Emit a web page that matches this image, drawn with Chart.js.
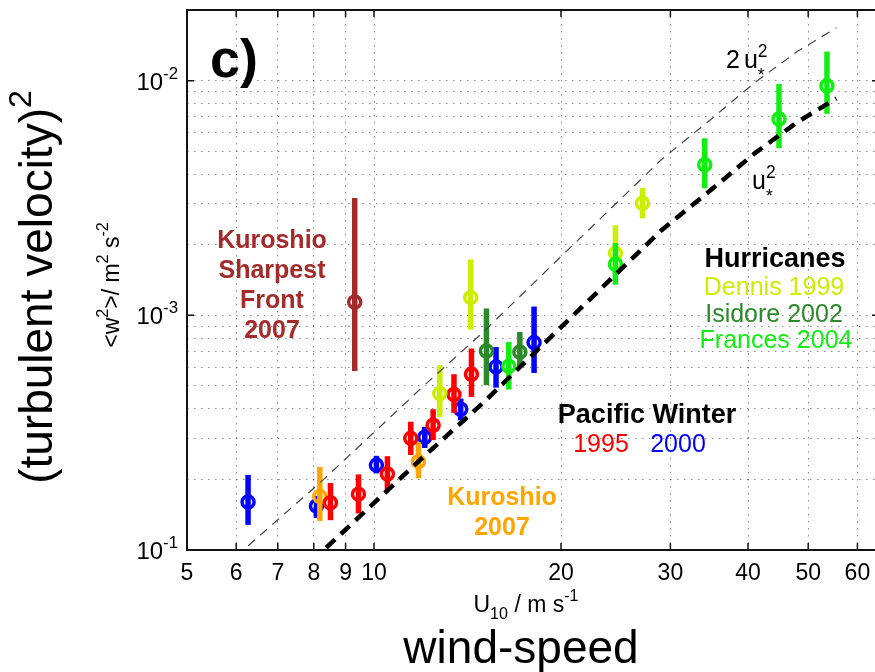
<!DOCTYPE html>
<html>
<head>
<meta charset="utf-8">
<title>Vertical velocity variance vs wind speed</title>
<script src="https://cdn.jsdelivr.net/npm/chart.js@4.4.1/dist/chart.umd.min.js"></script>
<style>
  html, body { margin: 0; padding: 0; background: #fff; overflow: hidden; }
  #wrap { width: 890px; height: 672px; }
</style>
</head>
<body>
<div id="wrap"><canvas id="chart" width="890" height="672"></canvas></div>
<script>
// axis ticks
const X_TICKS = [5, 6, 7, 8, 9, 10, 20, 30, 40, 50, 60];
const Y_GRID = [1e-4, 2e-4, 3e-4, 4e-4, 5e-4, 6e-4, 7e-4, 8e-4, 9e-4,
                1e-3, 2e-3, 3e-3, 4e-3, 5e-3, 6e-3, 7e-3, 8e-3, 9e-3,
                1e-2, 2e-2];
const Y_DECADES = [1e-4, 1e-3, 1e-2];
const Y_DECADE_EXP = ['-1', '-3', '-2'];

// u*^2 and 2u*^2 reference curves
const REF_U = [6, 8.3, 12, 15, 20, 29, 35, 41, 48, 55.5];
const USTAR2 = [4.7e-5, 1.0e-4, 2.49e-4, 4.25e-4, 8.9e-4, 2.3e-3, 3.45e-3, 4.9e-3, 6.65e-3, 8.4e-3];
const USTAR2_X2 = [9.4e-5, 2.0e-4, 4.98e-4, 8.5e-4, 1.78e-3, 4.6e-3, 6.9e-3, 9.8e-3, 1.33e-2, 1.68e-2];

// Pacific winter 2000
const pw2000U  = [6.27, 8.08, 10.09, 12.07, 13.79, 15.72, 18.1];
const pw2000W  = [1.60e-4, 1.54e-4, 2.30e-4, 3.02e-4, 3.98e-4, 6.03e-4, 7.65e-4];
const pw2000Lo = [1.28e-4, 1.37e-4, 2.12e-4, 2.72e-4, 3.57e-4, 4.92e-4, 5.68e-4];
const pw2000Hi = [2.09e-4, 1.70e-4, 2.52e-4, 3.35e-4, 4.42e-4, 7.33e-4, 1.09e-3];

// Pacific winter 1995
const pw1995U  = [8.51, 9.44, 10.51, 11.46, 12.45, 13.45, 14.35];
const pw1995W  = [1.59e-4, 1.73e-4, 2.11e-4, 2.99e-4, 3.40e-4, 4.60e-4, 5.61e-4];
const pw1995Lo = [1.34e-4, 1.43e-4, 1.80e-4, 2.54e-4, 2.94e-4, 3.84e-4, 4.49e-4];
const pw1995Hi = [1.93e-4, 2.10e-4, 2.51e-4, 3.52e-4, 3.98e-4, 5.61e-4, 7.22e-4];

// Kuroshio 2007
const kuroU  = [8.18, 11.79];
const kuroW  = [1.69e-4, 2.38e-4];
const kuroLo = [1.33e-4, 2.02e-4];
const kuroHi = [2.26e-4, 2.88e-4];

// Kuroshio sharpest front 2007
const frontU  = [9.31];
const frontW  = [1.14e-3];
const frontLo = [5.79e-4];
const frontHi = [3.16e-3];

// Hurricanes
const dennisU  = [12.76, 14.31, 24.47, 27.05];
const dennisW  = [4.64e-4, 1.19e-3, 1.84e-3, 3.0e-3];
const dennisLo = [3.69e-4, 8.69e-4, 1.5e-3, 2.59e-3];
const dennisHi = [6.13e-4, 1.73e-3, 2.42e-3, 3.49e-3];

const isidoreU  = [15.17, 17.17];
const isidoreW  = [7.05e-4, 6.98e-4];
const isidoreLo = [5.04e-4, 6.03e-4];
const isidoreHi = [1.07e-3, 8.49e-4];

const francesU  = [16.48, 24.47, 34.07, 44.87, 53.6];
const francesW  = [6.07e-4, 1.65e-3, 4.38e-3, 6.87e-3, 9.52e-3];
const francesLo = [4.83e-4, 1.35e-3, 3.48e-3, 5.15e-3, 7.22e-3];
const francesHi = [7.70e-4, 2.03e-3, 5.68e-3, 9.68e-3, 1.33e-2];

const C = {
    blue: '#0000ff', red: '#ff0000', orange: '#ffa500', front: '#a52a2a',
    dennis: '#ccee00', isidore: '#2a8a2a', frances: '#11ee11'
};
const FONT = '"Liberation Sans", Arial, Helvetica, sans-serif';

function pts(us, ws) { return us.map((u, i) => ({ x: u, y: ws[i] })); }

function group(us, ws, lo, hi, color) {
    return {
        type: 'scatter', data: pts(us, ws), lo: lo, hi: hi,
        borderColor: color, backgroundColor: 'rgba(0,0,0,0)',
        pointRadius: 6, pointBorderWidth: 3.5, pointHoverRadius: 6
    };
}

function refLine(ys, width, color, dash) {
    return {
        type: 'line', data: pts(REF_U, ys), borderColor: color, borderWidth: width,
        borderDash: dash, pointRadius: 0, fill: false, tension: 0
    };
}

// --- rich text (sub/superscripts) ---
function fontOf(size, bold) { return (bold ? 'bold ' : '') + size + 'px ' + FONT; }

function layoutRich(ctx, parts, size, bold) {
    let w = 0;
    const items = parts.map(p => {
        let pw;
        if (p.gap) pw = p.gap;
        else if (p.sub !== undefined) {
            ctx.font = fontOf(size * 0.7, bold);
            pw = Math.max(ctx.measureText(p.sub).width, ctx.measureText(p.sup).width);
        } else {
            ctx.font = fontOf(p.k ? size * 0.7 : size, bold);
            pw = ctx.measureText(p.t).width;
        }
        const it = { p: p, x: w };
        w += pw;
        return it;
    });
    return { items: items, width: w };
}

function drawRich(ctx, parts, x, y, size, color, align, bold) {
    const lay = layoutRich(ctx, parts, size, bold);
    const x0 = align === 'center' ? x - lay.width / 2 : align === 'right' ? x - lay.width : x;
    ctx.fillStyle = color;
    ctx.textAlign = 'left';
    ctx.textBaseline = 'alphabetic';
    lay.items.forEach(({ p, x: dx }) => {
        if (p.gap) return;
        if (p.sub !== undefined) {
            ctx.font = fontOf(size * 0.7, bold);
            ctx.fillText(p.sub, x0 + dx, y + size * 0.5);
            ctx.fillText(p.sup, x0 + dx, y - size * 0.46);
        } else if (p.k === 'sup') {
            ctx.font = fontOf(size * 0.7, bold);
            ctx.fillText(p.t, x0 + dx, y - size * 0.46);
        } else if (p.k === 'sub') {
            ctx.font = fontOf(size * 0.7, bold);
            ctx.fillText(p.t, x0 + dx, y + size * 0.3);
        } else {
            ctx.font = fontOf(size, bold);
            ctx.fillText(p.t, x0 + dx, y);
        }
    });
}

function text(ctx, s, x, y, size, color, bold) {
    ctx.font = fontOf(size, bold);
    ctx.fillStyle = color;
    ctx.textAlign = 'center';
    ctx.textBaseline = 'alphabetic';
    ctx.fillText(s, x, y);
}

// vertical error bars, drawn just before each group's markers
const errorBars = {
    id: 'errorBars',
    beforeDatasetDraw(chart, args) {
        const ds = chart.data.datasets[args.index];
        if (!ds.lo) return;
        const ctx = chart.ctx, ys = chart.scales.y, a = chart.chartArea;
        ctx.save();
        ctx.beginPath();
        ctx.rect(a.left, a.top, a.right - a.left, a.bottom - a.top);
        ctx.clip();
        ctx.strokeStyle = ds.borderColor;
        ctx.lineWidth = 5.5;
        args.meta.data.forEach((pt, i) => {
            ctx.beginPath();
            ctx.moveTo(pt.x, ys.getPixelForValue(ds.lo[i]));
            ctx.lineTo(pt.x, ys.getPixelForValue(ds.hi[i]));
            ctx.stroke();
        });
        ctx.restore();
    }
};

// box with inward ticks, tick labels and annotations
const decorations = {
    id: 'decorations',
    afterDatasetsDraw(chart) {
        const ctx = chart.ctx, a = chart.chartArea;
        const xs = chart.scales.x, ys = chart.scales.y;
        ctx.save();
        ctx.strokeStyle = '#111';
        ctx.lineWidth = 2;
        ctx.strokeRect(a.left, a.top, a.right - a.left, a.bottom - a.top);
        ctx.lineWidth = 1.5;
        ctx.beginPath();
        X_TICKS.forEach(v => {
            const px = xs.getPixelForValue(v);
            ctx.moveTo(px, a.bottom); ctx.lineTo(px, a.bottom - 7);
            ctx.moveTo(px, a.top); ctx.lineTo(px, a.top + 7);
        });
        Y_DECADES.forEach(v => {
            const py = ys.getPixelForValue(v);
            ctx.moveTo(a.left, py); ctx.lineTo(a.left + 7, py);
            ctx.moveTo(a.right, py); ctx.lineTo(a.right - 7, py);
        });
        ctx.stroke();
        ctx.restore();
    },
    afterDraw(chart) {
        const ctx = chart.ctx, a = chart.chartArea;
        const xs = chart.scales.x, ys = chart.scales.y;
        ctx.save();

        X_TICKS.forEach(v => text(ctx, String(v), xs.getPixelForValue(v), a.bottom + 30, 23, '#000'));
        Y_DECADES.forEach((v, i) => {
            drawRich(ctx, [{ t: '10' }, { t: Y_DECADE_EXP[i], k: 'sup' }],
                     a.left - 9, ys.getPixelForValue(v) + 9, 24, '#000', 'right');
        });

        // axis titles
        drawRich(ctx, [{ t: 'U' }, { t: '10', k: 'sub' }, { t: ' / m s' }, { t: '-1', k: 'sup' }],
                 526, 612, 23, '#000', 'center');
        text(ctx, 'wind-speed', 521, 663, 46, '#000');

        ctx.save();
        ctx.translate(119, 285);
        ctx.rotate(-Math.PI / 2);
        drawRich(ctx, [{ t: '<w' }, { t: '2', k: 'sup' }, { t: '>/ m' }, { t: '2', k: 'sup' },
                       { t: ' s' }, { t: '-2', k: 'sup' }], 0, 0, 23, '#000', 'center');
        ctx.restore();

        ctx.save();
        ctx.translate(52, 287);
        ctx.rotate(-Math.PI / 2);
        drawRich(ctx, [{ t: '(turbulent velocity)' }, { t: '2', k: 'sup' }], 0, 0, 46, '#000', 'center');
        ctx.restore();

        // panel tag
        text(ctx, 'c)', 234, 77, 54, '#000', true);

        // reference curve labels
        drawRich(ctx, [{ t: '2' }, { gap: 4 }, { t: 'u' }, { sub: '*', sup: '2' }], 726, 68, 25, '#000', 'left');
        drawRich(ctx, [{ t: 'u' }, { sub: '*', sup: '2' }], 752, 189, 25, '#000', 'left');

        // group labels
        ['Kuroshio', 'Sharpest', 'Front', '2007'].forEach((s, i) =>
            text(ctx, s, 272, 248 + i * 30, 25, C.front, true));

        text(ctx, 'Hurricanes', 775, 267, 27, '#000', true);
        text(ctx, 'Dennis 1999', 774, 295, 25, C.dennis);
        text(ctx, 'Isidore 2002', 774, 322, 25, C.isidore);
        text(ctx, 'Frances 2004', 776, 348, 25, C.frances);

        text(ctx, 'Pacific Winter', 647, 423, 27, '#000', true);
        text(ctx, '1995', 601, 452, 25, C.red);
        text(ctx, '2000', 678, 452, 25, C.blue);

        text(ctx, 'Kuroshio', 502, 505, 25, C.orange, true);
        text(ctx, '2007', 502, 535, 25, C.orange, true);

        ctx.restore();
    }
};

const gridAxis = (ticks, min, max) => ({
    type: 'logarithmic', min: min, max: max,
    afterBuildTicks: s => { s.ticks = ticks.map(v => ({ value: v, major: false })); },
    ticks: { display: false },
    grid: { color: 'rgba(0,0,0,0.45)', lineWidth: 1, drawTicks: false },
    border: { display: false, dash: [1.5, 5.5] }
});

new Chart(document.getElementById('chart'), {
    data: {
        datasets: [
            refLine(USTAR2, 4.5, '#000', [12, 8]),
            refLine(USTAR2_X2, 1.2, '#444', [9, 7]),
            group(francesU, francesW, francesLo, francesHi, C.frances),
            group(isidoreU, isidoreW, isidoreLo, isidoreHi, C.isidore),
            group(dennisU, dennisW, dennisLo, dennisHi, C.dennis),
            group(pw1995U, pw1995W, pw1995Lo, pw1995Hi, C.red),
            group(kuroU, kuroW, kuroLo, kuroHi, C.orange),
            group(pw2000U, pw2000W, pw2000Lo, pw2000Hi, C.blue),
            group(frontU, frontW, frontLo, frontHi, C.front)
        ]
    },
    options: {
        responsive: false,
        animation: false,
        events: [],
        layout: { padding: { left: 187, right: 11, top: 10, bottom: 122 } },
        plugins: { legend: { display: false }, tooltip: { enabled: false } },
        scales: {
            x: gridAxis(X_TICKS, 5, 65),
            y: gridAxis(Y_GRID, 1e-4, 2e-2)
        }
    },
    plugins: [errorBars, decorations]
});
</script>
</body>
</html>
